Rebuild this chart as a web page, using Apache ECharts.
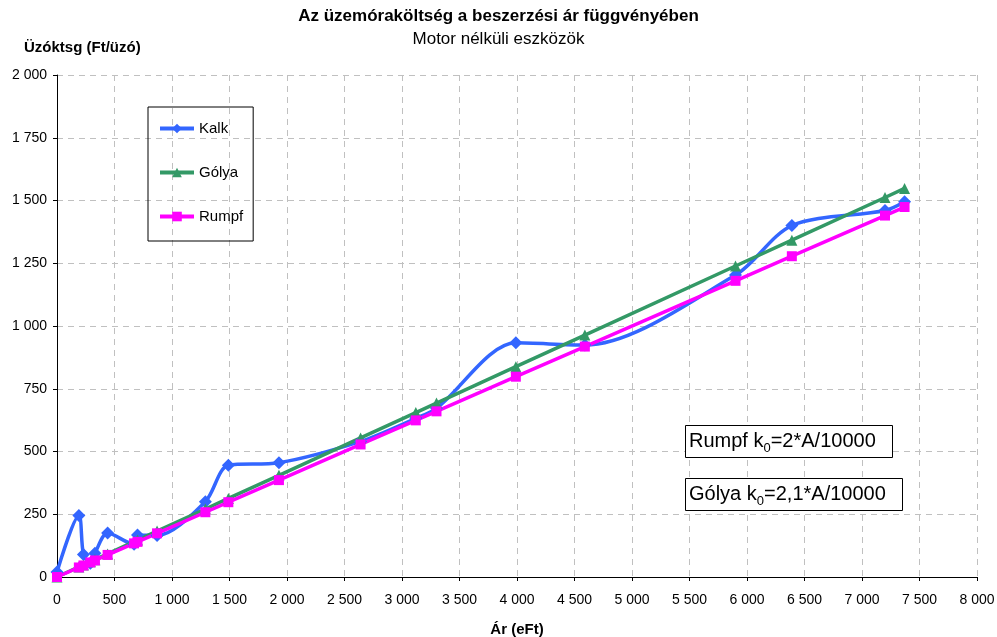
<!DOCTYPE html>
<html><head><meta charset="utf-8">
<script src="https://cdn.jsdelivr.net/npm/echarts@6/dist/echarts.min.js"></script>
<style>html,body{margin:0;padding:0;background:#fff}#c{width:997px;height:637px}</style>
</head><body><div id="c"></div>
<script>
var prices = [0, 190, 230, 290, 330, 440, 670, 700, 870, 1290, 1490, 1930, 2640, 3120, 3300, 3990, 4590, 5900, 6390, 7200, 7370];
var kalk   = [20, 245, 90, 55, 95, 175, 130, 167, 165, 300, 445, 455, 540, 632, 672, 933, 924, 1203, 1400, 1460, 1495];
var golya  = [0, 40, 48, 61, 69, 92, 141, 147, 183, 271, 313, 405, 554, 655, 693, 838, 964, 1239, 1342, 1512, 1548];
var rumpf  = [0, 38, 46, 58, 66, 88, 134, 140, 174, 258, 298, 386, 528, 624, 660, 798, 918, 1180, 1278, 1440, 1474];

function pairs(ys){ return prices.map(function(x,i){ return [x, ys[i]]; }); }
function fmt(v){ return String(v).replace(/\B(?=(\d{3})+(?!\d))/g, ' '); }
var FONT = 'Liberation Sans, Arial, sans-serif';

var mctx = document.createElement('canvas').getContext('2d');
function tw(t, size){ mctx.font = size + 'px ' + FONT; return mctx.measureText(t).width; }

function formulaBox(x, y, w, h, pre, sub, post){
  var big = 20, small = 13;
  var w1 = tw(pre, big), w2 = tw(sub, small);
  var cy = y + h / 2;
  return [
    { type: 'rect', left: x, top: y, z: 100,
      shape: { width: w, height: h }, style: { fill: '#fff', stroke: '#000', lineWidth: 1 } },
    { type: 'text', x: x + 4, y: cy, z: 101,
      style: { text: pre, fontSize: big, fill: '#000', fontFamily: FONT, verticalAlign: 'middle' } },
    { type: 'text', x: x + 4 + w1, y: cy + 7, z: 101,
      style: { text: sub, fontSize: small, fill: '#000', fontFamily: FONT, verticalAlign: 'middle' } },
    { type: 'text', x: x + 4 + w1 + w2, y: cy, z: 101,
      style: { text: post, fontSize: big, fill: '#000', fontFamily: FONT, verticalAlign: 'middle' } }
  ];
}

var chart = echarts.init(document.getElementById('c'));
chart.setOption({
  animation: false,
  textStyle: { fontFamily: FONT },
  title: [
    { text: 'Az üzemóraköltség a beszerzési ár függvényében', left: 'center', top: 3,
      textStyle: { fontSize: 17, fontWeight: 'bold', color: '#000', fontFamily: FONT } },
    { text: 'Motor nélküli eszközök', left: 'center', top: 26,
      textStyle: { fontSize: 17, fontWeight: 'normal', color: '#000', fontFamily: FONT } },
    { text: 'Üzóktsg (Ft/üzó)', left: 19, top: 35,
      textStyle: { fontSize: 15, fontWeight: 'bold', color: '#000', fontFamily: FONT } }
  ],
  grid: { left: 57, right: 20, top: 75, bottom: 60, containLabel: false, outerBoundsMode: 'none' },
  legend: {
    orient: 'vertical', left: 148, top: 107,
    padding: [14, 10, 17, 10], itemGap: 29,
    borderColor: '#000', borderWidth: 1,
    itemWidth: 34, itemHeight: 12,
    lineStyle: { width: 4 },
    textStyle: { fontSize: 15, color: '#000', fontFamily: FONT },
    data: ['Kalk', 'Gólya', 'Rumpf']
  },
  xAxis: {
    type: 'value', min: 0, max: 8000, interval: 500,
    name: 'Ár (eFt)', nameLocation: 'middle', nameGap: 45,
    nameTextStyle: { fontSize: 15, fontWeight: 'bold', color: '#000' },
    axisLine: { lineStyle: { color: '#000', width: 1 } },
    axisTick: { show: true, length: 4, lineStyle: { color: '#000' } },
    axisLabel: { fontSize: 14, color: '#000', margin: 16, formatter: fmt },
    splitLine: { show: true, lineStyle: { color: '#c0c0c0', type: [6, 5], width: 1 } }
  },
  yAxis: {
    type: 'value', min: 0, max: 2000, interval: 250,
    axisLine: { show: true, lineStyle: { color: '#000', width: 1 } },
    axisTick: { show: true, length: 4, lineStyle: { color: '#000' } },
    axisLabel: { fontSize: 14, color: '#000', margin: 10, formatter: fmt },
    splitLine: { show: true, lineStyle: { color: '#c0c0c0', type: [6, 5], width: 1 } }
  },
  series: [
    { name: 'Kalk', type: 'line', data: pairs(kalk), smooth: 0.3,
      symbol: 'diamond', symbolSize: 13,
      lineStyle: { color: '#3366FF', width: 3.5 }, itemStyle: { color: '#3366FF' } },
    { name: 'Gólya', type: 'line', data: pairs(golya),
      symbol: 'triangle', symbolSize: 11,
      lineStyle: { color: '#339966', width: 3.5 }, itemStyle: { color: '#339966' } },
    { name: 'Rumpf', type: 'line', data: pairs(rumpf),
      symbol: 'rect', symbolSize: 10,
      lineStyle: { color: '#FF00FF', width: 3.5 }, itemStyle: { color: '#FF00FF' } }
  ],
  graphic: formulaBox(685, 425, 207, 32, 'Rumpf k', '0', '=2*A/10000')
    .concat(formulaBox(685, 478, 217, 32, 'Gólya k', '0', '=2,1*A/10000'))
});
</script></body></html>
